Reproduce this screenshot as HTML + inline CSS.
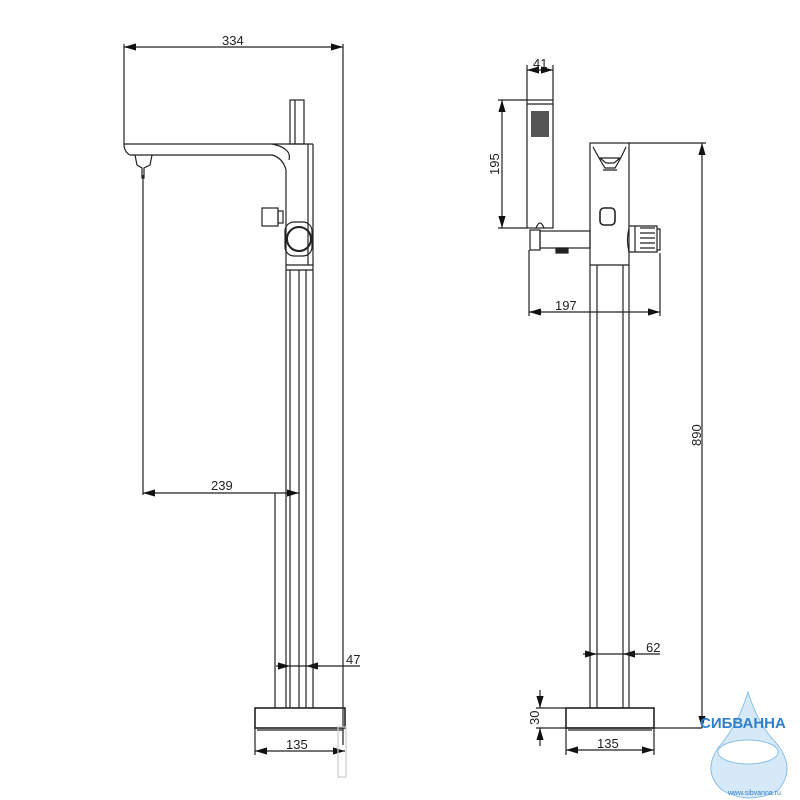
<!DOCTYPE html>
<html><head><meta charset="utf-8"><style>body{margin:0;background:#fff}svg{display:block}text{font-family:"Liberation Sans",sans-serif;font-size:13px;fill:#222}</style></head><body>
<svg width="800" height="800" viewBox="0 0 800 800" xmlns="http://www.w3.org/2000/svg">
<defs><marker id="a" viewBox="0 0 10 6" refX="10" refY="3" markerWidth="10" markerHeight="6" orient="auto-start-reverse"><path d="M0,0L10,3L0,6z" fill="#111"/></marker></defs>
<g stroke="#222" stroke-width="1.2" fill="none">
<line x1="124" y1="47" x2="343" y2="47" marker-start="url(#a)" marker-end="url(#a)"/>
<line x1="124" y1="44" x2="124" y2="145"/>
<line x1="343" y1="44" x2="343" y2="745"/>
<path d="M124,144 L313,144 M130,155 L272,155 Q283,158 286,170 M124,144 Q124,152 130,155 M272,144 Q292,148 289,160"/>
<path d="M135,155 L137,165 L142,168 L142,178 L144,178 L144,168 L150,165 L152,155"/>
<rect x="290" y="100" width="14" height="44"/>
<line x1="295" y1="100" x2="295" y2="144"/>
<path d="M286,170 L286,708 M313,144 L313,708 M308,144 L308,265"/>
<line x1="286" y1="265" x2="313" y2="265"/>
<line x1="286" y1="270" x2="313" y2="270"/>
<path d="M290,270 L290,708 M299,270 L299,708 M306,270 L306,708"/>
<rect x="262" y="208" width="16" height="18"/>
<rect x="278" y="211" width="5" height="12"/>
<rect x="285" y="222" width="27" height="34" rx="9"/>
<circle cx="299" cy="239" r="12" stroke-width="2"/>
<line x1="143" y1="175" x2="143" y2="495"/>
<line x1="143" y1="493" x2="299" y2="493" marker-start="url(#a)" marker-end="url(#a)"/>
<line x1="275" y1="493" x2="275" y2="708"/>
<line x1="276" y1="666" x2="290" y2="666" marker-end="url(#a)"/>
<line x1="320" y1="666" x2="306" y2="666" marker-end="url(#a)"/>
<line x1="290" y1="666" x2="360" y2="666"/>
<rect x="255" y="708" width="90" height="20" stroke-width="1.6"/>
<line x1="257" y1="730" x2="343" y2="730"/>
<line x1="255" y1="728" x2="255" y2="755"/>
<line x1="255" y1="751" x2="345" y2="751" marker-start="url(#a)" marker-end="url(#a)"/>
<rect x="338" y="727" width="8" height="50" stroke="#ccc"/>
<line x1="527" y1="70" x2="553" y2="70" marker-start="url(#a)" marker-end="url(#a)"/>
<line x1="527" y1="65" x2="527" y2="100"/><line x1="553" y1="65" x2="553" y2="100"/>
<rect x="527" y="100" width="26" height="128"/>
<line x1="527" y1="104" x2="553" y2="104"/>
<line x1="498" y1="100" x2="527" y2="100"/><line x1="498" y1="228" x2="527" y2="228"/>
<line x1="502" y1="100" x2="502" y2="228" marker-start="url(#a)" marker-end="url(#a)"/>
<path d="M536,228 Q540,218 544,228"/>
<rect x="530" y="230" width="10" height="20"/>
<rect x="540" y="231" width="50" height="17"/>
<rect x="556" y="248" width="12" height="5" fill="#222"/>
<rect x="590" y="143" width="39" height="565"/>
<line x1="590" y1="265" x2="629" y2="265"/>
<path d="M597,265 L597,708 M623,265 L623,708"/>
<path d="M593,147 Q600,160 605,168 L615,168 Q620,160 626,147"/>
<path d="M600,158 L620,158 L614,163 L606,163 z M603,170 L617,170"/>
<rect x="600" y="208" width="15" height="17" rx="4" stroke-width="1.6"/>
<path d="M629,228 Q626,240 629,252 L657,252 L657,226 L629,226"/>
<path d="M635,226 L635,252 M640,228 L655,228 M640,233 L655,233 M640,238 L655,238 M640,243 L655,243 M640,248 L655,248 M657,229 L660,229 L660,250 L657,250"/>
<line x1="529" y1="250" x2="529" y2="316"/><line x1="660" y1="253" x2="660" y2="316"/>
<line x1="529" y1="312" x2="660" y2="312" marker-start="url(#a)" marker-end="url(#a)"/>
<line x1="629" y1="143" x2="706" y2="143"/>
<line x1="702" y1="143" x2="702" y2="728" marker-start="url(#a)" marker-end="url(#a)"/>
<line x1="583" y1="654" x2="597" y2="654" marker-end="url(#a)"/>
<line x1="637" y1="654" x2="623" y2="654" marker-end="url(#a)"/>
<line x1="597" y1="654" x2="660" y2="654"/>
<rect x="566" y="708" width="88" height="20" stroke-width="1.6"/>
<line x1="568" y1="730" x2="652" y2="730"/>
<line x1="536" y1="708" x2="566" y2="708"/>
<line x1="536" y1="728" x2="702" y2="728"/>
<line x1="540" y1="690" x2="540" y2="708" marker-end="url(#a)"/>
<line x1="540" y1="746" x2="540" y2="728" marker-end="url(#a)"/>
<line x1="566" y1="728" x2="566" y2="755"/><line x1="654" y1="728" x2="654" y2="755"/>
<line x1="566" y1="750" x2="654" y2="750" marker-start="url(#a)" marker-end="url(#a)"/>
</g>
<rect x="531" y="111" width="18" height="26" fill="#555"/>
<text x="222" y="45">334</text>
<text x="211" y="490">239</text>
<text x="346" y="664">47</text>
<text x="286" y="749">135</text>
<text x="533" y="68">41</text>
<text x="555" y="310">197</text>
<text x="646" y="652">62</text>
<text x="597" y="748">135</text>
<text transform="translate(499,175) rotate(-90)">195</text>
<text transform="translate(701,446) rotate(-90)">890</text>
<text transform="translate(539,725) rotate(-90)">30</text>
<path d="M748,692 Q738,725 718,748 Q702,772 722,790 Q750,806 778,790 Q796,770 778,745 Q758,725 748,692z" fill="#d6e9f8" stroke="#8cc0e6"/>
<ellipse cx="748" cy="752" rx="30" ry="12" fill="#fff" stroke="#8cc0e6"/>
<text x="700" y="728" style="font-size:15px;font-weight:bold;fill:#2f7fcc">СИБВАННА</text>
<text x="728" y="795" style="font-size:7px;fill:#2f7fcc">www.sibvanna.ru</text>
</svg>
</body></html>
